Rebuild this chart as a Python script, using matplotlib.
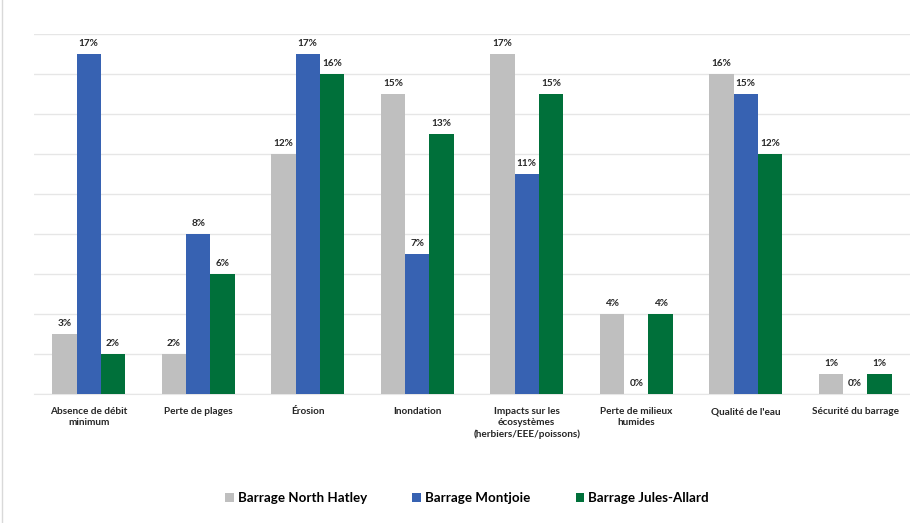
import matplotlib.pyplot as plt
import numpy as np
from matplotlib.lines import Line2D
from matplotlib.patches import Patch

categories = [
    "Absence de débit\nminimum",
    "Perte de plages",
    "Érosion",
    "Inondation",
    "Impacts sur les\nécosystèmes\n(herbiers/EEE/poissons)",
    "Perte de milieux\nhumides",
    "Qualité de l'eau",
    "Sécurité du barrage",
]
series_names = ["Barrage North Hatley", "Barrage Montjoie", "Barrage Jules-Allard"]
north_hatley = [3, 2, 12, 15, 17, 4, 16, 1]
montjoie = [17, 8, 17, 7, 11, 0, 15, 0]
jules_allard = [2, 6, 16, 13, 15, 4, 12, 1]

colors = ["#BFBFBF", "#3762B2", "#00703A"]

plt.rcParams["font.family"] = ["Lato", "DejaVu Sans"]

fig = plt.figure(figsize=(9.1, 5.23), dpi=100)
ax = fig.add_axes([34 / 910, 1 - 394 / 523, 876 / 910, 360 / 523])

x = np.arange(len(categories))
width = 0.222
for i, (vals, name) in enumerate(zip([north_hatley, montjoie, jules_allard], series_names)):
    pos = x + (i - 1) * width
    ax.bar(pos, vals, width, color=colors[i], label=name, zorder=3)
    for xb, v in zip(pos, vals):
        ax.text(xb, v + 0.3, f"{v}%", ha="center", va="bottom",
                fontsize=7.2, fontweight="bold", color="#262626", zorder=4)

ax.set_xlim(-0.5, len(categories) - 0.5)
ax.set_ylim(0, 18)
ax.set_yticks(np.arange(0, 19, 2))
ax.yaxis.grid(True, color="#E6E6E6", linewidth=1, zorder=0)
ax.tick_params(axis="y", left=False, labelleft=False)
ax.tick_params(axis="x", bottom=False, pad=6)
ax.set_xticks(x)
ax.set_xticklabels(categories, fontsize=7.2, fontweight="bold", color="#262626",
                   linespacing=1.3, va="top")
for side in ["top", "right", "left"]:
    ax.spines[side].set_visible(False)
ax.spines["bottom"].set_color("#E6E6E6")

handles = [Patch(facecolor=c, label=n) for c, n in zip(colors, series_names)]
fig.legend(handles=handles, loc="center", bbox_to_anchor=(467 / 910, 1 - 498 / 523),
           ncol=3, frameon=False, prop={"size": 9.6, "weight": "bold"},
           handlelength=0.65, handleheight=0.65, handletextpad=0.3, columnspacing=3.4)

fig.add_artist(Line2D([2 / 910, 2 / 910], [0, 1], color="#D9D9D9", linewidth=1))

fig.savefig("out.png", dpi=100)
